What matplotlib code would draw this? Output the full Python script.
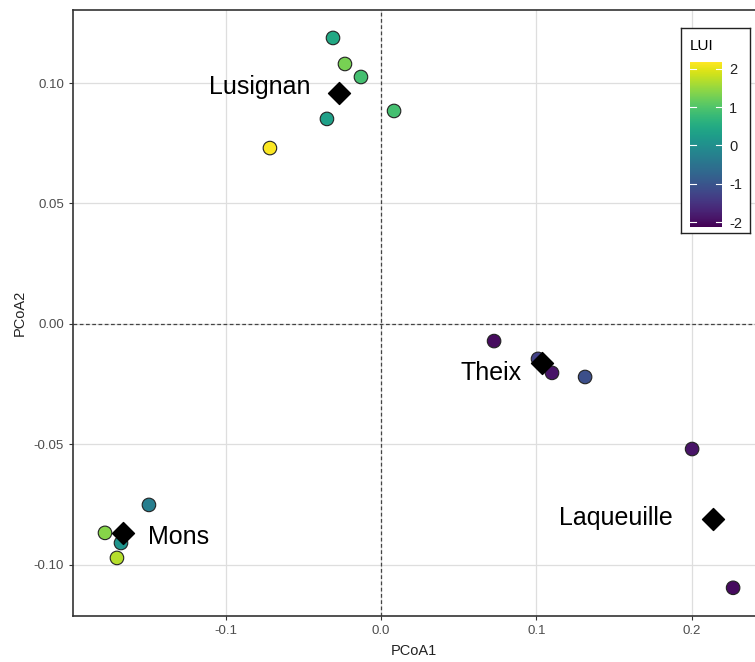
import numpy as np
import matplotlib
matplotlib.use("Agg")
from matplotlib import pyplot as plt

plt.rcParams['font.family'] = ['Liberation Sans', 'DejaVu Sans']
plt.rcParams['axes.unicode_minus'] = False

# site scores on the first two PCoA axes, with LUI
pcoa1 = [-0.0309, -0.0232, -0.0129, 0.0084, -0.0348, -0.0715,
         -0.1494, -0.1777, -0.1674, -0.1700,
         0.0728, 0.1011, 0.1101, 0.1314,
         0.2003, 0.2267]
pcoa2 = [0.1187, 0.1079, 0.1025, 0.0884, 0.0851, 0.0730,
         -0.0751, -0.0867, -0.0909, -0.0971,
         -0.0071, -0.0145, -0.0203, -0.0220,
         -0.0519, -0.1095]
lui = [0.45, 1.3, 0.9, 0.9, 0.3, 2.15,
       -0.3, 1.4, 0.1, 1.7,
       -2.0, -1.3, -1.9, -1.1,
       -1.9, -2.0]

# centroids per site
sites = ['Lusignan', 'Mons', 'Theix', 'Laqueuille']
cent1 = [-0.0270, -0.1661, 0.1037, 0.2138]
cent2 = [0.0958, -0.0867, -0.0162, -0.0809]
lab1 = [-0.0457, -0.1500, 0.0908, 0.1880]
lab2 = [0.0985, -0.0884, -0.0203, -0.0805]
lab_ha = ['right', 'left', 'right', 'right']

fig = plt.figure(figsize=(7.55, 6.62), dpi=100)
ax = fig.add_axes([73 / 755, 46 / 662, 682 / 755, 606 / 662])

ax.set_xlim(-0.1983, 0.2408)
ax.set_ylim(-0.1212, 0.1303)
ax.set_xticks([-0.1, 0.0, 0.1, 0.2])
ax.set_xticklabels(['-0.1', '0.0', '0.1', '0.2'])
ax.set_yticks([-0.10, -0.05, 0.0, 0.05, 0.10])
ax.set_yticklabels(['-0.10', '-0.05', '0.00', '0.05', '0.10'])
ax.grid(True, color='#dedede', lw=0.9)
ax.set_axisbelow(True)
ax.axhline(0, color='#444444', lw=0.9, ls=(0, (3, 2)), zorder=1)
ax.axvline(0, color='#444444', lw=0.9, ls=(0, (3, 2)), zorder=1)

for s in ['left', 'bottom', 'top']:
    ax.spines[s].set_color('#333333')
    ax.spines[s].set_linewidth(1.2)
ax.spines['right'].set_visible(False)
ax.tick_params(colors='#333333', labelcolor='#4d4d4d', labelsize=9.5, length=3)

sc = ax.scatter(pcoa1, pcoa2, c=lui, cmap='viridis', vmin=-2.13, vmax=2.18,
                s=95, edgecolors='#222222', linewidths=0.8, zorder=3)
ax.scatter(cent1, cent2, marker='D', s=125, color='black', zorder=4)
for name, x, y, ha in zip(sites, lab1, lab2, lab_ha):
    ax.text(x, y, name, fontsize=18, ha=ha, va='center', zorder=5)

ax.set_xlabel('PCoA1', fontsize=10.5, color='#222222', labelpad=5)
ax.set_ylabel('PCoA2', fontsize=10.5, color='#222222', labelpad=5)

# legend box with colorbar
box = fig.add_axes([681 / 755, 1 - 233 / 662, 69 / 755, 205 / 662])
box.set_xticks([])
box.set_yticks([])
for s in box.spines.values():
    s.set_linewidth(1.0)
    s.set_color('#222222')
box.text(0.13, 0.91, 'LUI', fontsize=11, transform=box.transAxes, va='center')
cax = fig.add_axes([690 / 755, 1 - 227 / 662, 32 / 755, 165 / 662])
cb = fig.colorbar(sc, cax=cax, ticks=[-2, -1, 0, 1, 2])
cb.outline.set_visible(False)
cax.tick_params(length=0, labelsize=10.5, labelcolor='#222222', pad=5)
for t in [-2, -1, 0, 1, 2]:
    cax.plot([0, 0.2], [t, t], color='white', lw=0.8, transform=cax.get_yaxis_transform())
    cax.plot([0.8, 1.0], [t, t], color='white', lw=0.8, transform=cax.get_yaxis_transform())

fig.savefig('out.png', dpi=100)
